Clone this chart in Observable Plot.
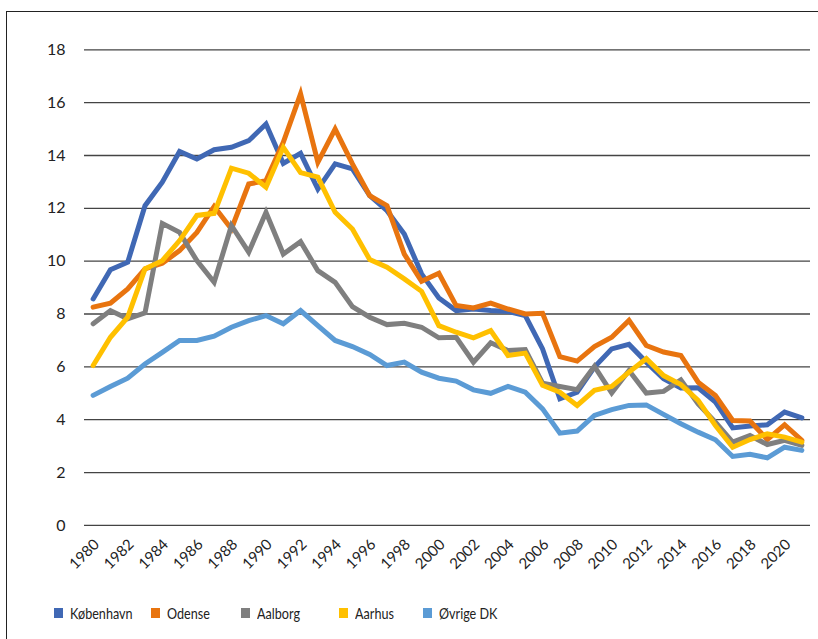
<!DOCTYPE html>
<html>
<head>
<meta charset="utf-8">
<script src="https://cdn.jsdelivr.net/npm/d3@7"></script>
<script src="https://cdn.jsdelivr.net/npm/@observablehq/plot@0.6"></script>
<style>
  html, body { margin: 0; padding: 0; background: #fff; }
  #wrap { position: relative; width: 818px; height: 639px; overflow: hidden; font-family: Lato, sans-serif; }
  #frame { position: absolute; left: 6px; top: 11px; width: 900px; height: 700px; border-top: 1.5px solid #222; border-left: 1.5px solid #222; }
  #chart { position: absolute; left: 0; top: 0; }
  .leg { position: absolute; top: 604px; font-size: 15px; color: #222; line-height: 18px; white-space: nowrap; }
  .sw { position: absolute; width: 9px; height: 10px; top: 4px; left: 0; }
  .lt { position: absolute; left: 16px; top: 0; transform: scaleX(0.84); transform-origin: left center; }
</style>
</head>
<body>
<div id="wrap">
  <div id="frame"></div>
  <div id="chart"></div>
  <div id="legend"></div>
</div>
<script>
const years = d3.range(1980, 2022);
const seriesNames = ["København", "Odense", "Aalborg", "Aarhus", "Øvrige DK"];
const seriesColors = ["#4068B4", "#E8740F", "#7F7F7F", "#FFC000", "#5B9BD5"];

const kobenhavn = [8.57, 9.68, 9.96, 12.1, 12.99, 14.15, 13.87, 14.22, 14.31, 14.56,
  15.19, 13.7, 14.08, 12.73, 13.68, 13.49, 12.48, 11.91, 11.03, 9.52,
  8.61, 8.13, 8.19, 8.13, 8.1, 7.94, 6.68, 4.79, 5.04, 5.99,
  6.68, 6.85, 6.18, 5.55, 5.2, 5.21, 4.67, 3.69, 3.76, 3.81,
  4.29, 4.07];
const odense = [8.26, 8.41, 8.95, 9.71, 9.92, 10.4, 11.09, 12.07, 11.22, 12.92,
  13.05, 14.5, 16.33, 13.74, 15.0, 13.68, 12.48, 12.1, 10.27, 9.24,
  9.54, 8.32, 8.23, 8.41, 8.19, 8.0, 8.03, 6.39, 6.22, 6.77,
  7.12, 7.76, 6.81, 6.56, 6.43, 5.42, 4.92, 3.97, 3.95, 3.25,
  3.81, 3.22];
const aalborg = [7.63, 8.13, 7.82, 8.04, 11.43, 11.09, 10.02, 9.2, 11.35, 10.34,
  11.85, 10.27, 10.74, 9.64, 9.2, 8.28, 7.88, 7.6, 7.65, 7.5,
  7.1, 7.12, 6.18, 6.91, 6.62, 6.65, 5.38, 5.26, 5.14, 6.02,
  5.01, 5.86, 5.01, 5.07, 5.51, 4.6, 3.91, 3.15, 3.4, 3.06,
  3.22, 3.03];
const aarhus = [6.05, 7.12, 7.88, 9.71, 10.02, 10.78, 11.73, 11.81, 13.52, 13.33,
  12.8, 14.31, 13.35, 13.18, 11.85, 11.22, 10.06, 9.77, 9.33, 8.86,
  7.56, 7.31, 7.1, 7.37, 6.43, 6.52, 5.3, 5.04, 4.54, 5.11,
  5.26, 5.8, 6.31, 5.67, 5.33, 4.73, 3.78, 2.96, 3.25, 3.47,
  3.34, 3.15];
const ovrige = [4.92, 5.26, 5.57, 6.11, 6.55, 7.0, 7.0, 7.16, 7.5, 7.75,
  7.94, 7.63, 8.13, 7.56, 7.0, 6.77, 6.47, 6.05, 6.18, 5.8,
  5.57, 5.46, 5.13, 5.0, 5.26, 5.04, 4.41, 3.49, 3.57, 4.16,
  4.38, 4.54, 4.56, 4.2, 3.85, 3.53, 3.24, 2.61, 2.69, 2.56,
  2.96, 2.84];

const yTicks = [0, 2, 4, 6, 8, 10, 12, 14, 16, 18];
const xTickLabels = d3.range(1980, 2022, 2);

const allSeries = [kobenhavn, odense, aalborg, aarhus, ovrige];
const rows = [];
allSeries.forEach((vals, i) => {
  vals.forEach((v, j) => rows.push({year: years[j], value: v, series: seriesNames[i]}));
});

const lineMarks = seriesNames.map((name, i) =>
  Plot.line(rows.filter(r => r.series === name), {
    x: "year", y: "value", stroke: seriesColors[i], strokeWidth: 5,
    strokeLinejoin: "miter", strokeMiterlimit: 4
  })
);

const chart = Plot.plot({
  width: 818,
  height: 580,
  marginLeft: 84,
  marginRight: 8,
  marginTop: 49.3,
  marginBottom: 55.1,
  style: {fontFamily: "Lato, sans-serif", background: "transparent", overflow: "visible"},
  x: {domain: [1979.5, 2021.5], axis: null},
  y: {domain: [0, 18], label: null},
  marks: [
    Plot.ruleY(yTicks, {stroke: "#444", strokeWidth: 1.3}),
    Plot.axisY(yTicks, {tickSize: 0, tickPadding: 19, fontSize: 16, fill: "#222", label: null}),
    Plot.text(xTickLabels, {
      x: d => d, frameAnchor: "bottom", text: d => String(d),
      rotate: -45, textAnchor: "end", lineAnchor: "bottom",
      dx: 7, dy: 20, fontSize: 15, fill: "#222"
    }),
    ...lineMarks
  ]
});
document.getElementById("chart").appendChild(chart);

const legendX = [54, 151, 241, 339, 423];
const legend = document.getElementById("legend");
seriesNames.forEach((name, i) => {
  const item = document.createElement("div");
  item.className = "leg";
  item.style.left = legendX[i] + "px";
  const sw = document.createElement("div");
  sw.className = "sw";
  sw.style.background = seriesColors[i];
  const t = document.createElement("span");
  t.className = "lt";
  t.textContent = name;
  item.appendChild(sw);
  item.appendChild(t);
  legend.appendChild(item);
});
</script>
</body>
</html>
